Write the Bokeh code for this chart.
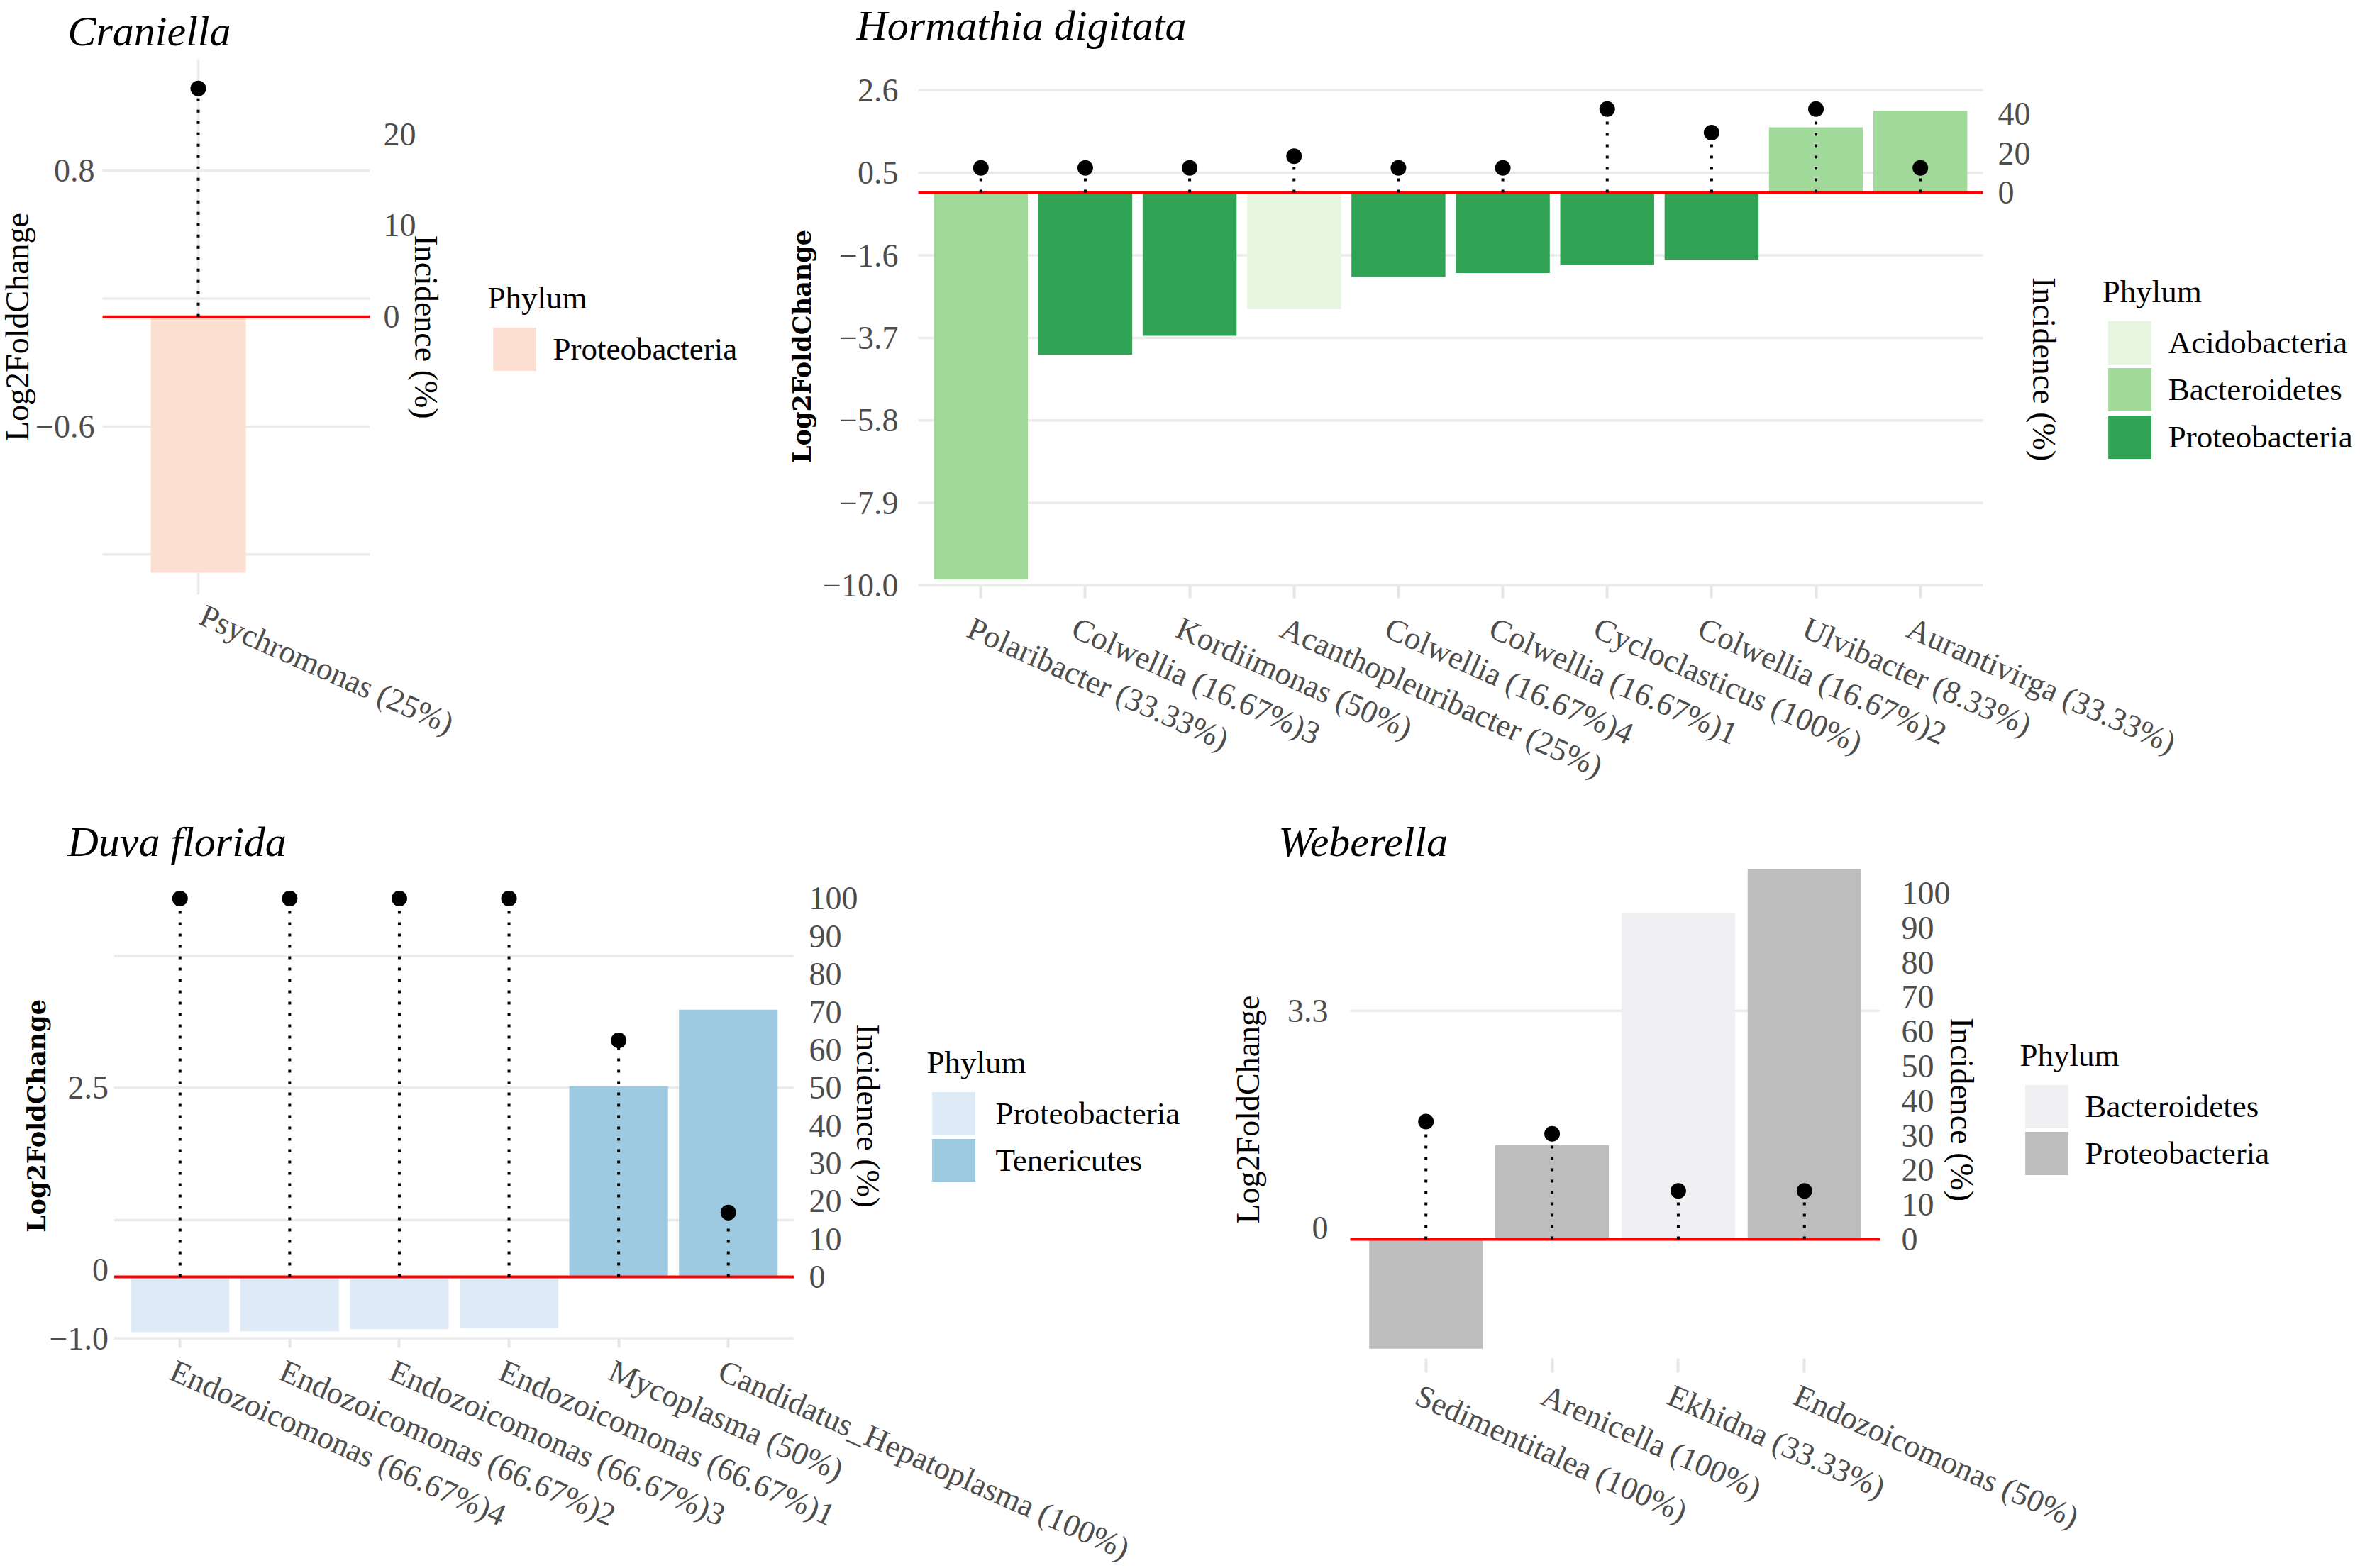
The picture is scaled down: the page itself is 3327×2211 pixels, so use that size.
import math
from bokeh.plotting import figure
from bokeh.models import (Range1d, LinearAxis, FixedTicker, Label, Grid,
                          Legend, LegendItem, ColumnDataSource)
from bokeh.layouts import row, column
from bokeh.embed import file_html
from bokeh.resources import INLINE

# ---------------- data ----------------
# Craniella
cran_genus = ["Psychromonas (25%)"]
cran_phylum = ["Proteobacteria"]
cran_lfc = [-1.40]
cran_incidence = [25.0]
cran_phyla = ["Proteobacteria"]
cran_colors = ["#FEE0D2"]
cran_lfc_ticks = [-0.6, 0.8]
cran_lfc_tick_labels = ["\u22120.6", "0.8"]
cran_grid = [-1.3, -0.6, 0.1, 0.8]
cran_inc_ticks = [0, 10, 20]

# Hormathia digitata
horm_genus = ["Polaribacter (33.33%)", "Colwellia (16.67%)3", "Kordiimonas (50%)",
              "Acanthopleuribacter (25%)", "Colwellia (16.67%)4", "Colwellia (16.67%)1",
              "Cycloclasticus (100%)", "Colwellia (16.67%)2", "Ulvibacter (8.33%)",
              "Aurantivirga (33.33%)"]
horm_phylum = ["Bacteroidetes", "Proteobacteria", "Proteobacteria", "Acidobacteria",
               "Proteobacteria", "Proteobacteria", "Proteobacteria", "Proteobacteria",
               "Bacteroidetes", "Bacteroidetes"]
horm_lfc = [-9.85, -4.13, -3.65, -2.97, -2.15, -2.05, -1.85, -1.71, 1.66, 2.08]
horm_incidence = [12.5, 12.5, 12.5, 18.5, 12.5, 12.5, 42.5, 30.5, 42.5, 12.5]
horm_phyla = ["Acidobacteria", "Bacteroidetes", "Proteobacteria"]
horm_colors = ["#E5F5E0", "#A1D99B", "#31A354"]
horm_lfc_ticks = [-10.0, -7.9, -5.8, -3.7, -1.6, 0.5, 2.6]
horm_lfc_tick_labels = ["\u221210.0", "\u22127.9", "\u22125.8", "\u22123.7", "\u22121.6", "0.5", "2.6"]
horm_grid = [-10.0, -7.9, -5.8, -3.7, -1.6, 0.5, 2.6]
horm_inc_ticks = [0, 20, 40]

# Duva florida
duva_genus = ["Endozoicomonas (66.67%)4", "Endozoicomonas (66.67%)2", "Endozoicomonas (66.67%)3",
              "Endozoicomonas (66.67%)1", "Mycoplasma (50%)", "Candidatus_Hepatoplasma (100%)"]
duva_phylum = ["Proteobacteria", "Proteobacteria", "Proteobacteria", "Proteobacteria",
               "Tenericutes", "Tenericutes"]
duva_lfc = [-0.73, -0.72, -0.69, -0.68, 2.52, 3.53]
duva_incidence = [100.0, 100.0, 100.0, 100.0, 62.5, 17.0]
duva_phyla = ["Proteobacteria", "Tenericutes"]
duva_colors = ["#DEEBF7", "#9ECAE1"]
duva_lfc_ticks = [-0.815, 0.097, 2.5]
duva_lfc_tick_labels = ["\u22121.0", "0", "2.5"]
duva_grid = [-0.81, 0.75, 2.5, 4.24]
duva_inc_ticks = [0, 10, 20, 30, 40, 50, 60, 70, 80, 90, 100]

# Weberella
web_genus = ["Sedimentitalea (100%)", "Arenicella (100%)", "Ekhidna (33.33%)", "Endozoicomonas (50%)"]
web_phylum = ["Proteobacteria", "Proteobacteria", "Bacteroidetes", "Proteobacteria"]
web_lfc = [-1.58, 1.36, 4.71, 5.35]
web_incidence = [34.0, 30.5, 14.0, 14.0]
web_phyla = ["Bacteroidetes", "Proteobacteria"]
web_colors = ["#F0F0F2", "#BDBDBD"]
web_lfc_ticks = [0.16, 3.3]
web_lfc_tick_labels = ["0", "3.3"]
web_grid = [3.3]
web_inc_ticks = [0, 10, 20, 30, 40, 50, 60, 70, 80, 90, 100]

K = 20.0  # incidence (%) per Log2FoldChange unit (secondary axis)

SERIF = "Liberation Serif"
TICK_COLOR = "#4D4D4D"
GRID_COLOR = "#EBEBEB"


def make_panel(genus, phylum, lfc, inc, phyla, colors, lfc_ticks, lfc_labels,
               grid_vals, inc_ticks, title, g):
    w, h = g["w"], g["h"]
    L, R, T, B = g["panel"]
    x0p, x1p = g["xr"]
    y0p, y1p = g["yr"]
    sx = (R - L) / (x1p - x0p)
    sy = (B - T) / (y1p - y0p)
    xstart, xend = x0p - L / sx, x1p + (w - R) / sx
    ystart, yend = y0p - (h - B) / sy, y1p + T / sy

    p = figure(width=w, height=h, output_backend="svg", toolbar_location=None,
               title=None, x_range=Range1d(xstart, xend), y_range=Range1d(ystart, yend),
               min_border=0, x_axis_location=None, y_axis_location=None)
    p.outline_line_color = None
    p.background_fill_color = "white"
    p.border_fill_color = "white"
    p.center = [r for r in p.center if not isinstance(r, Grid)]
    p.extra_y_ranges = {"inc": Range1d(ystart * K, yend * K)}

    xs = list(range(1, len(genus) + 1))

    # panel grid lines (limited to the panel)
    p.segment(x0=[x0p] * len(grid_vals), y0=grid_vals, x1=[x1p] * len(grid_vals), y1=grid_vals,
              line_color=GRID_COLOR, line_width=3.5)
    if g.get("vgrid"):
        p.segment(x0=xs, y0=[y0p] * len(xs), x1=xs, y1=[y1p] * len(xs),
                  line_color=GRID_COLOR, line_width=3.5)

    # bottom axis: tick marks only (category names are rotated labels below)
    xa = LinearAxis(fixed_location=y0p, ticker=FixedTicker(ticks=xs))
    xa.major_label_overrides = {x: " " for x in xs}
    xa.major_label_text_font_size = "1px"
    xa.axis_line_color = None
    xa.minor_tick_line_color = None
    if g["tick_out"] > 0:
        xa.major_tick_out = g["tick_out"]
        xa.major_tick_in = 0
        xa.major_tick_line_color = "#E6E6E6"
        xa.major_tick_line_width = 4
    else:
        xa.major_tick_line_color = None
    p.add_layout(xa, "below")

    # left axis (Log2FoldChange)
    lb = g.get("lbounds", (y0p - 0.01, y1p + 0.01))
    ya = LinearAxis(fixed_location=x0p, ticker=FixedTicker(ticks=lfc_ticks), bounds=lb,
                    axis_label="Log2FoldChange")
    ya.major_label_overrides = dict(zip(lfc_ticks, lfc_labels))
    ya.axis_line_color = None
    ya.major_tick_line_color = None
    ya.minor_tick_line_color = None
    ya.major_tick_in = 0
    ya.major_tick_out = 0
    ya.major_label_standoff = g["l_std"]
    ya.major_label_text_font = SERIF
    ya.major_label_text_font_size = "46px"
    ya.major_label_text_color = TICK_COLOR
    ya.axis_label_text_font = g["ylab_font"]
    ya.axis_label_text_font_size = g["ylab_size"]
    ya.axis_label_text_font_style = g["ylab_style"]
    ya.axis_label_text_color = "black"
    ya.axis_label_standoff = g["ylab_std"]
    p.add_layout(ya, "left")

    # right axis (Incidence)
    rb = g.get("rbounds", (y0p * K - 0.2, y1p * K + 0.2))
    ra = LinearAxis(y_range_name="inc", fixed_location=x1p, bounds=rb,
                    ticker=FixedTicker(ticks=inc_ticks), axis_label="Incidence (%)")
    ra.axis_line_color = None
    ra.major_tick_line_color = None
    ra.minor_tick_line_color = None
    ra.major_tick_in = 0
    ra.major_tick_out = 0
    ra.major_label_standoff = g["r_std"]
    ra.major_label_text_font = SERIF
    ra.major_label_text_font_size = "46px"
    ra.major_label_text_color = TICK_COLOR
    ra.axis_label_text_font = SERIF
    ra.axis_label_text_font_size = "46px"
    ra.axis_label_text_font_style = "normal"
    ra.axis_label_text_color = "black"
    ra.axis_label_standoff = g["rlab_std"]
    p.add_layout(ra, "right")

    # bars, one renderer per phylum
    bar_renderers = []
    for ph, col in zip(phyla, colors):
        idx = [i for i, v in enumerate(phylum) if v == ph]
        src = ColumnDataSource(dict(x=[xs[i] for i in idx], top=[lfc[i] for i in idx]))
        r = p.vbar(x="x", top="top", bottom=0, width=0.9, source=src,
                   fill_color=col, line_color=None)
        bar_renderers.append(r)

    # zero reference line
    p.segment(x0=[x0p], y0=[0], x1=[x1p], y1=[0], line_color="#FF0000", line_width=4)

    # incidence lollipops on the secondary range
    p.segment(x0=xs, y0=[0] * len(xs), x1=xs, y1=inc, y_range_name="inc",
              line_color="black", line_width=4, line_dash="4 12")
    p.scatter(x=xs, y=inc, y_range_name="inc", size=22, fill_color="black", line_color=None)

    # rotated category labels
    ang = -24 * math.pi / 180
    for xi, name in zip(xs, genus):
        p.add_layout(Label(x=xi, y=h - (B + g["xl_dy"]), x_units="data", y_units="screen",
                           x_offset=g["xl_dx"], text=name, angle=ang,
                           text_align="left", text_baseline="top",
                           text_font=SERIF, text_font_size="45px", text_color=TICK_COLOR))

    # panel title
    p.add_layout(Label(x=g["tx"], y=h - g["tmid"], x_units="screen", y_units="screen",
                       text=title, text_font=SERIF, text_font_style="italic",
                       text_font_size="60px", text_color="black",
                       text_align="left", text_baseline="middle"))

    # legend: one box per phylum so that the keys sit exactly like the reference
    kl, kb0, pitch, lstd = g["leg"]
    gl = 76
    inset = gl * 0.1
    for i, (ph, r) in enumerate(zip(phyla, bar_renderers)):
        kb = kb0 + i * pitch
        kw = dict(items=[LegendItem(label=ph, renderers=[r])],
                  location=(kl - inset, h - (kb + inset)), orientation="vertical",
                  label_text_font=SERIF, label_text_font_size="45px", label_text_color="black",
                  glyph_width=gl, glyph_height=gl, spacing=0, label_standoff=lstd,
                  padding=0, margin=0, border_line_color=None, background_fill_alpha=0)
        if i == 0:
            kw.update(title="Phylum", title_text_font=SERIF, title_text_font_size="45px",
                      title_text_font_style="normal", title_text_color="black",
                      title_standoff=8)
        p.add_layout(Legend(**kw))
    return p


# layout geometry in each canvas' own pixels: panel = (left, right, top, bottom)
geom_cran = dict(w=1100, h=1128, panel=(144, 521, 83, 838),
                 xr=(0.094, 2.624), yr=(-1.52, 1.41), tick_out=0, vgrid=True,
                 xl_dx=15, xl_dy=4, tx=95, tmid=43,
                 l_std=11, r_std=19, rlab_std=-15,
                 ylab_font=SERIF, ylab_size="46px", ylab_style="normal", ylab_std=-3,
                 leg=(695, 522.5, 66.5, 16))
geom_horm = dict(w=2227, h=1128, panel=(194, 1695, 118, 826),
                 xr=(0.4, 10.6), yr=(-10.02, 2.76), tick_out=17,
                 xl_dx=-6, xl_dy=34, tx=107, tmid=35,
                 l_std=28, r_std=21, rlab_std=-10,
                 ylab_font="DejaVu Serif", ylab_size="35px", ylab_style="bold", ylab_std=6,
                 lbounds=(-10.45, 2.61), rbounds=(-221, 41),
                 leg=(1871.4, 513, 66.5, 17))
geom_duva = dict(w=1700, h=1083, panel=(160.5, 1119, 131, 759),
                 xr=(0.4, 6.6), yr=(-0.815, 5.07), tick_out=13,
                 xl_dx=-1, xl_dy=20, tx=95, tmid=58,
                 l_std=8, r_std=21, rlab_std=-15,
                 ylab_font="DejaVu Serif", ylab_size="35px", ylab_style="bold", ylab_std=-5,
                 leg=(1314, 472, 66, 21))
geom_web = dict(w=1627, h=1083, panel=(203, 950, 85, 787),
                xr=(0.4, 4.6), yr=(-1.72, 5.47), tick_out=20,
                xl_dx=-2, xl_dy=27, tx=101.7, tmid=58,
                l_std=31, r_std=30, rlab_std=-13,
                ylab_font=SERIF, ylab_size="46px", ylab_style="normal", ylab_std=27,
                leg=(1155, 462.4, 66, 16))

p_cran = make_panel(cran_genus, cran_phylum, cran_lfc, cran_incidence, cran_phyla, cran_colors,
                    cran_lfc_ticks, cran_lfc_tick_labels, cran_grid, cran_inc_ticks,
                    "Craniella", geom_cran)
p_horm = make_panel(horm_genus, horm_phylum, horm_lfc, horm_incidence, horm_phyla, horm_colors,
                    horm_lfc_ticks, horm_lfc_tick_labels, horm_grid, horm_inc_ticks,
                    "Hormathia digitata", geom_horm)
p_duva = make_panel(duva_genus, duva_phylum, duva_lfc, duva_incidence, duva_phyla, duva_colors,
                    duva_lfc_ticks, duva_lfc_tick_labels, duva_grid, duva_inc_ticks,
                    "Duva florida", geom_duva)
p_web = make_panel(web_genus, web_phylum, web_lfc, web_incidence, web_phyla, web_colors,
                   web_lfc_ticks, web_lfc_tick_labels, web_grid, web_inc_ticks,
                   "Weberella", geom_web)

layout = column(row(p_cran, p_horm), row(p_duva, p_web))
open("out.html", "w").write(file_html(layout, INLINE))
